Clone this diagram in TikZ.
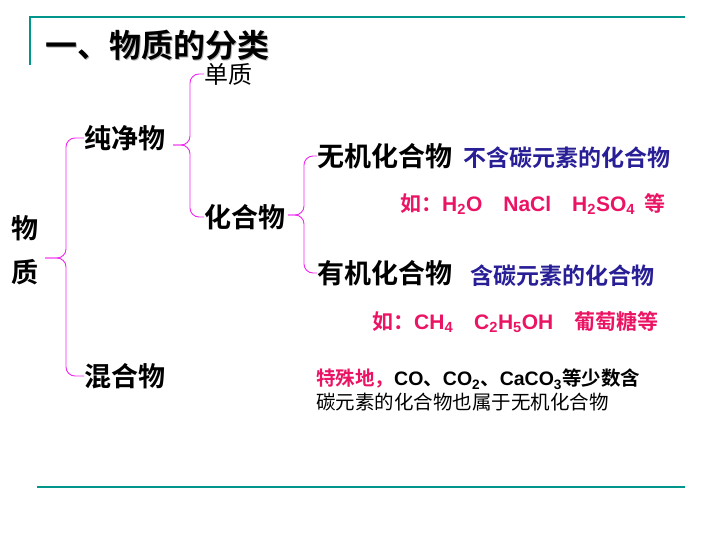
\documentclass[tikz,border=0pt]{standalone}
\usepackage{fontspec}
\setmainfont{Liberation Sans}
\newfontfamily\cjk{Noto Sans CJK SC}[BoldFont={Noto Sans CJK SC Bold}]
\usetikzlibrary{positioning}
\definecolor{frameteal}{RGB}{0,150,140}
\definecolor{bracepink}{RGB}{240,40,240}
\definecolor{notenavy}{RGB}{40,30,150}
\definecolor{examplered}{RGB}{235,20,100}
\tikzset{
  item/.style={anchor=west,inner sep=0pt,font=\cjk\bfseries\fontsize{27}{29}\selectfont},
  note/.style={anchor=west,inner sep=0pt,text=notenavy,font=\cjk\bfseries\fontsize{23}{25}\selectfont},
  sample/.style={anchor=west,inner sep=0pt,text=examplered,font=\cjk\bfseries\fontsize{21}{23}\selectfont},
  brace/.style={draw=bracepink,line width=0.9pt,rounded corners=9pt},
}
\begin{document}
\begin{tikzpicture}[x=1pt,y=-1pt]
  \useasboundingbox (0,0) rectangle (720,540);
  % frame lines
  \draw[frameteal,line width=1.2pt] (30,65) -- (30,17) -- (685,17);
  \draw[frameteal,line width=1.2pt] (37,487) -- (685,487);
  \node[anchor=west,inner sep=0pt,text=gray!60,font=\cjk\bfseries\fontsize{32}{34}\selectfont] at (46.5,46.5) {一、物质的分类};
  \node (title) [anchor=west,inner sep=0pt,font=\cjk\bfseries\fontsize{32}{34}\selectfont] at (45,45) {一、物质的分类};

  % tree
  \node (wu) [item,anchor=center] at (25,228) {物};
  \node (zhi) [item,anchor=center] at (25,272) {质};
  \coordinate (root) at (45,258);
  \coordinate (puretip) at (173,145);
  \coordinate (comptip) at (288,215);
  \node (pure) [item] at (84,138) {纯净物};
  \node (mix) [item] at (84,376) {混合物};
  \node (elem) [item,font=\cjk\fontsize{24}{26}\selectfont] at (204,74) {单质};
  \node (comp) [item] at (204,217) {化合物};
  \node (inorg) [item] at (317,156) {无机化合物};
  \node (org) [item] at (317,273) {有机化合物};

  \draw[brace] (pure.west) -| (66,258) -- (root);
  \draw[brace] (root) -- (66,258) |- (mix.west);
  \draw[brace] (elem.west) -| (190,145) -- (puretip);
  \draw[brace] (puretip) -- (190,145) |- (comp.west);
  \draw[brace] (inorg.west) -| (304,215) -- (comptip);
  \draw[brace] (comptip) -- (304,215) |- (org.west);

  % notes
  \node (inorgnote) [note] at (463,158) {不含碳元素的化合物};
  \node (inorgeg) [sample] at (400,204) {如：\rmfamily H\textsubscript{2}O\quad NaCl\quad H\textsubscript{2}SO\textsubscript{4}\, \cjk 等};
  \node (orgnote) [note] at (470,276) {含碳元素的化合物};
  \node (orgeg) [sample] at (372,322) {如：\rmfamily CH\textsubscript{4}\quad C\textsubscript{2}H\textsubscript{5}OH\quad \cjk 葡萄糖等};
  \node (special) [anchor=north west,inner sep=0pt,align=left,font=\cjk\bfseries\fontsize{19.5}{24}\selectfont] at (316,369)
    {{\color{examplered}特殊地，}\rmfamily CO\cjk 、\rmfamily CO\textsubscript{2}\cjk 、\rmfamily CaCO\textsubscript{3}\cjk 等少数含\\\mdseries 碳元素的化合物也属于无机化合物};
\end{tikzpicture}
\end{document}
